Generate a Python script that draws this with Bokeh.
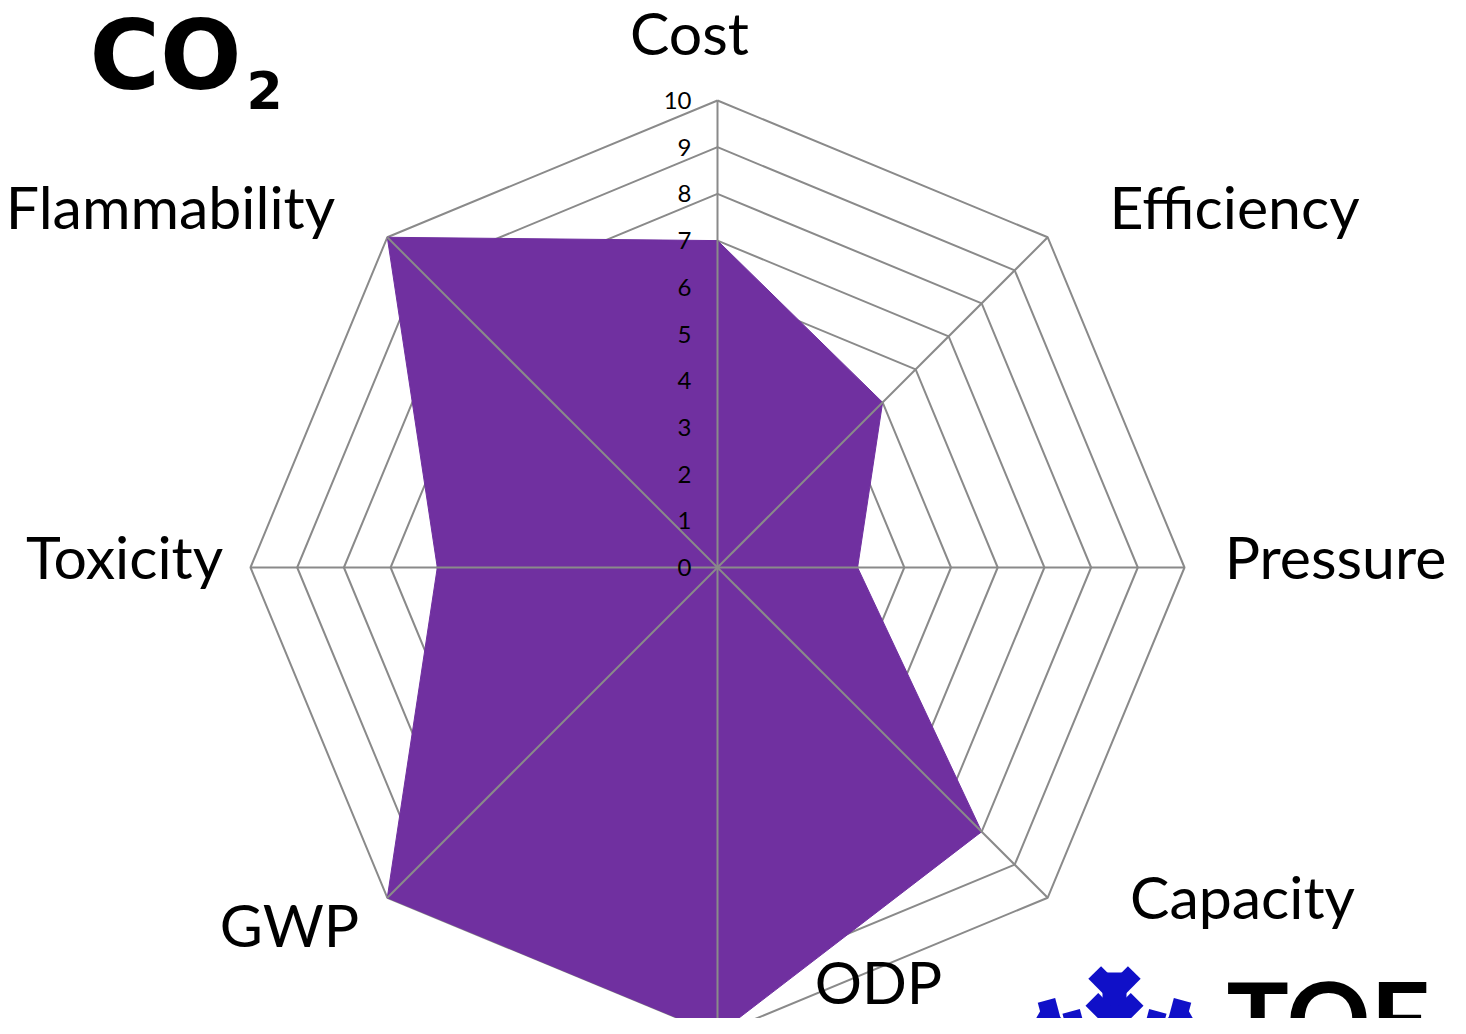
import numpy as np
from bokeh.plotting import figure
from bokeh.models import Range1d
from bokeh.core.properties import value
from bokeh.embed import file_html
from bokeh.resources import INLINE

# ---- data ----
categories = ["Cost", "Efficiency", "Pressure", "Capacity", "ODP", "GWP", "Toxicity", "Flammability"]
scores = [7, 5, 3, 8, 10, 10, 6, 10]
rings = [1, 2, 3, 4, 5, 6, 7, 8, 9, 10]
tick_labels = ["0", "1", "2", "3", "4", "5", "6", "7", "8", "9", "10"]
title_main = "CO"
title_sub = "2"
logo_text = "TOF"

# ---- layout (pixel helpers, picture coordinates) ----
W, H = 1450, 1018
CX, CY = 717, 567     # chart centre
S = 46.7              # pixels per unit

def sx(X):
    return (X - CX) / S

def sy(Y):
    return (CY - Y) / S

p = figure(width=W, height=H, output_backend="svg", toolbar_location=None,
           x_range=Range1d(sx(0), sx(W)), y_range=Range1d(sy(H), sy(0)),
           min_border=0, outline_line_color=None)
p.axis.visible = False
p.grid.visible = False
p.background_fill_color = "white"
p.border_fill_color = "white"

n = len(categories)
angles = np.pi / 2 - np.arange(n) * 2 * np.pi / n
GRID = "#8a8a8a"

# rings (under the fill)
for r in rings:
    xs = list(r * np.cos(angles)) + [r * np.cos(angles[0])]
    ys = list(r * np.sin(angles)) + [r * np.sin(angles[0])]
    p.line(xs, ys, line_color=GRID, line_width=2)

# filled series
vals = np.array(scores, dtype=float)
p.patch(list(vals * np.cos(angles)), list(vals * np.sin(angles)),
        fill_color="#7030A0", line_color="#7030A0", line_width=1)

# spokes (over the fill)
R = max(rings)
p.segment(x0=[0] * n, y0=[0] * n, x1=list(R * np.cos(angles)), y1=list(R * np.sin(angles)),
          line_color=GRID, line_width=2)

# tick labels along the Cost axis
tv = np.arange(len(tick_labels))
p.text(x=[sx(691)] * len(tv), y=list(tv.astype(float)), text=tick_labels,
       text_font=value("Lato"), text_font_size="24px", text_color="black",
       text_align="right", text_baseline="middle")

# category labels (visual baselines, corrected for renderer offset)
FS = 59
OFF = 24 * FS / 60
lab_x = [689, 1234, 1335, 1242, 878, 289, 124, 170]
lab_y = [56, 230, 580, 920, 1005, 948, 580, 230]
p.text(x=[sx(v) for v in lab_x], y=[sy(v - OFF) for v in lab_y], text=categories,
       text_font=value("Lato"), text_font_size=f"{FS}px", text_color="black",
       text_align="center", text_baseline="alphabetic")

# title CO2
p.text(x=[sx(89)], y=[sy(93 - 38)], text=[title_main], text_font=value("DejaVu Sans"),
       text_font_size="96px", text_font_style="bold", text_color="black",
       text_align="left", text_baseline="alphabetic")
p.text(x=[sx(246)], y=[sy(110 - 21)], text=[title_sub], text_font=value("DejaVu Sans"),
       text_font_size="52px", text_font_style="bold", text_color="black",
       text_align="left", text_baseline="alphabetic")

# logo (partially cut at the bottom edge): "TOF" word
p.text(x=[sx(1226)], y=[sy(1016)], text=[logo_text], text_font=value("Lato"),
       text_font_size="104px", text_font_style="bold", text_color="black",
       text_align="left", text_baseline="middle")

# logo snowflake: six arms with chevron barbs (pixel geometry around a hub)
HX, HY, L = 1114, 1062, 90
x0, y0, x1, y1 = [], [], [], []
bx0, by0, bx1, by1 = [], [], [], []
for k in range(6):
    a = np.pi / 2 + k * np.pi / 3
    ux, uy = np.cos(a), -np.sin(a)          # pixel direction (y down)
    x0.append(sx(HX)); y0.append(sy(HY))
    x1.append(sx(HX + L * ux)); y1.append(sy(HY + L * uy))
    for d, bl in ((L * 0.78, 28), (L * 0.45, 32)):
        px, py = HX + d * ux, HY + d * uy
        for s in (-1, 1):
            b = a + s * np.pi / 4
            vx, vy = np.cos(b), -np.sin(b)
            bx0.append(sx(px)); by0.append(sy(py))
            bx1.append(sx(px + bl * vx)); by1.append(sy(py + bl * vy))
p.segment(x0=x0, y0=y0, x1=x1, y1=y1, line_color="#1010c8", line_width=24)
p.segment(x0=bx0, y0=by0, x1=bx1, y1=by1, line_color="#1010c8", line_width=18)

open("out.html", "w").write(file_html(p, INLINE))
